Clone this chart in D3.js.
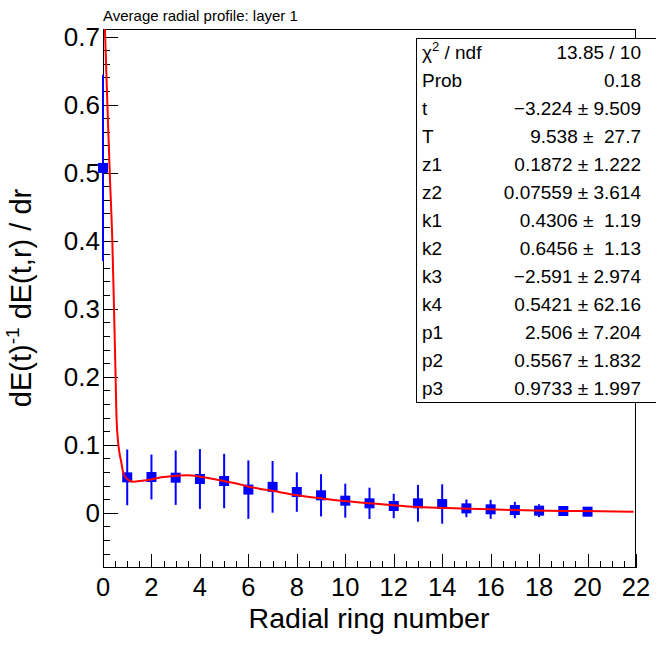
<!DOCTYPE html>
<html><head><meta charset="utf-8">
<script src="https://cdn.jsdelivr.net/npm/d3@7"></script>
<style>
html,body{margin:0;padding:0;background:#fff;}
svg{display:block;font-family:"Liberation Sans",Arial,Helvetica,sans-serif;}
</style></head>
<body><svg id="c" width="656" height="645"></svg>
<script>
// ---- data ----
const binX = [0,1,2,3,4,5,6,7,8,9,10,11,12,13,14,15,16,17,18,19,20];
const binY = [0.507,0.052,0.0525,0.0515,0.0496,0.0466,0.034,0.038,0.0304,0.0256,0.0177,0.0138,0.0099,0.0138,0.0128,0.0064,0.005,0.004,0.003,0.0025,0.0015];
const binErr = [0.137,0.041,0.033,0.040,0.044,0.040,0.043,0.038,0.029,0.031,0.025,0.023,0.018,0.027,0.029,0.013,0.014,0.012,0.0095,0.006,0.005];
const fitX = [0,0.08,0.2,0.29,0.385,0.455,0.52,0.55,0.62,0.67,0.75,0.84,1.05,1.25,1.6,1.98,2.4,2.9,3.46,4.0,4.5,4.97,5.5,5.94,6.5,7.04,8.0,9.1,10.07,11.03,12.0,12.8,14.2,15.58,16.95,18.3,19.7,21.9];
const fitY = [0.80,0.711,0.58,0.489,0.40,0.30,0.20,0.15,0.105,0.09,0.075,0.058,0.048,0.0456,0.047,0.049,0.052,0.054,0.055,0.053,0.050,0.0466,0.043,0.039,0.035,0.032,0.0256,0.0206,0.0168,0.0138,0.011,0.0088,0.0069,0.0054,0.004,0.003,0.0025,0.0015];
const xTicks = [0,2,4,6,8,10,12,14,16,18,20,22];
const yTicks = [0,0.1,0.2,0.3,0.4,0.5,0.6,0.7];
const statNames = ["χ² / ndf","Prob","t","T","z1","z2","k1","k2","k3","k4","p1","p2","p3"];
const statValues = ["13.85 / 10","0.18","\u22123.224 ± 9.509","9.538 ±  27.7","0.1872 ± 1.222","0.07559 ± 3.614","0.4306 ±  1.19","0.6456 ±  1.13","\u22122.591 ± 2.974","0.5421 ± 62.16","2.506 ± 7.204","0.5567 ± 1.832","0.9733 ± 1.997"];
const title = "Average radial profile: layer 1";
const xTitle = "Radial ring number";

// ---- layout ----
const L=103, R=636, T=29, B=568;
const svg = d3.select("#c");
const x = d3.scaleLinear().domain([0,22]).range([L,R]);
const y = d3.scaleLinear().domain([-0.0813,0.7113]).range([B,T]);

// frame
svg.append("rect").attr("x",L+0.5).attr("y",T+0.5).attr("width",R-L-1).attr("height",B-T-1)
  .attr("fill","none").attr("stroke","#000").attr("stroke-width",1);

// x axis ticks
const xMinor = d3.range(0,22.001,0.5);
svg.append("g").selectAll("line").data(xMinor).join("line")
  .attr("x1",d=>Math.round(x(d))+0.5).attr("x2",d=>Math.round(x(d))+0.5)
  .attr("y1",B).attr("y2",d=> (Math.abs(d/2-Math.round(d/2))<1e-6) ? B-14 : B-7)
  .attr("stroke","#000").attr("stroke-width",1);
svg.append("g").selectAll("text").data(xTicks).join("text")
  .attr("x",d=>x(d)).attr("y",596).attr("text-anchor","middle")
  .attr("font-size",25.5).text(d=>d);

// y axis ticks
const yMinor = d3.range(-0.08,0.7101,0.02).map(v=>Math.round(v*100)/100);
svg.append("g").selectAll("line").data(yMinor).join("line")
  .attr("y1",d=>Math.round(y(d))+0.5).attr("y2",d=>Math.round(y(d))+0.5)
  .attr("x1",L).attr("x2",d=> (Math.abs(d*10-Math.round(d*10))<1e-6) ? L+15 : L+7)
  .attr("stroke","#000").attr("stroke-width",1);
svg.append("g").selectAll("text").data(yTicks).join("text")
  .attr("x",100).attr("y",d=>y(d)+9).attr("text-anchor","end")
  .attr("font-size",26).text(d=>d===0?"0":d3.format(".1f")(d));

// titles
svg.append("text").attr("x",L).attr("y",21).attr("font-size",15).text(title);
svg.append("text").attr("x",369).attr("y",628).attr("text-anchor","middle")
  .attr("font-size",28.5).text(xTitle);
const yl = svg.append("text").attr("transform","translate(31,298) rotate(-90)")
  .attr("text-anchor","middle").attr("font-size",29);
yl.append("tspan").text("dE(t)");
yl.append("tspan").attr("font-size",19).attr("dy",-12).text("-1");
yl.append("tspan").attr("dy",12).text(" dE(t,r) / dr");

// clip for curve
svg.append("clipPath").attr("id","fr").append("rect").attr("x",L).attr("y",T).attr("width",R-L).attr("height",B-T);

// error bars & markers
const pts = binX.map((v,i)=>({x:v,y:binY[i],e:binErr[i]}));
svg.append("g").selectAll("line").data(pts).join("line")
  .attr("x1",d=>x(d.x)).attr("x2",d=>x(d.x))
  .attr("y1",d=>y(d.y+d.e)).attr("y2",d=>y(d.y-d.e))
  .attr("stroke","#0000ff").attr("stroke-width",2);
svg.append("g").selectAll("rect").data(pts).join("rect")
  .attr("x",d=>x(d.x)-5).attr("y",d=>y(d.y)-5).attr("width",10).attr("height",10)
  .attr("fill","#0000ff");

// fit curve
const line = d3.line().x((d,i)=>x(fitX[i])).y((d,i)=>y(fitY[i])).curve(d3.curveMonotoneX);
svg.append("path").datum(fitX).attr("d",line).attr("clip-path","url(#fr)")
  .attr("fill","none").attr("stroke","#ff0000").attr("stroke-width",2);

// stats box
const sx=416, sy=38, sw=250, rowH=28;
svg.append("rect").attr("x",sx+0.5).attr("y",sy+0.5).attr("width",sw).attr("height",rowH*statNames.length)
  .attr("fill","#fff").attr("stroke","#000").attr("stroke-width",1);
const rows = svg.append("g").selectAll("g").data(statNames).join("g")
  .attr("transform",(d,i)=>`translate(0,${sy+rowH*i+rowH/2+7})`);
rows.append("text").attr("x",422).attr("font-size",19).each(function(d){
  const t=d3.select(this);
  if(d.startsWith("χ²")){
    t.append("tspan").text("χ");
    t.append("tspan").attr("font-size",13).attr("dy",-8).text("2");
    t.append("tspan").attr("dy",8).text(" / ndf");
  } else t.text(d);
});
rows.append("text").attr("x",641).attr("text-anchor","end").attr("font-size",19)
  .style("white-space","pre").text((d,i)=>statValues[i]);
</script></body></html>
